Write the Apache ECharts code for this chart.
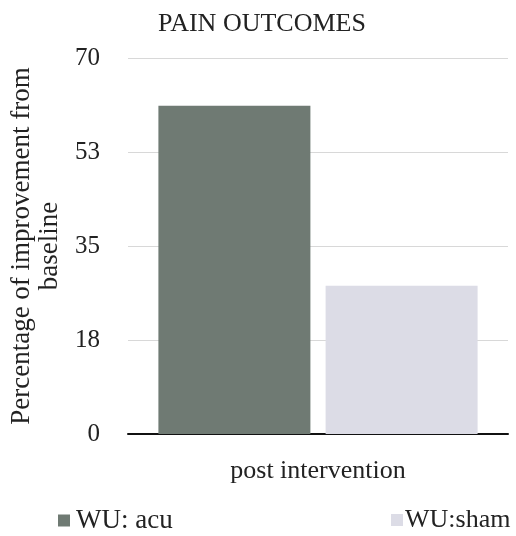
<!DOCTYPE html>
<html>
<head>
<meta charset="utf-8">
<style>
  html, body { margin: 0; padding: 0; background: #fff; }
  #chart { width: 516px; height: 536px; }
</style>
<script src="https://cdn.jsdelivr.net/npm/echarts@6/dist/echarts.min.js"></script>
</head>
<body>
<div id="chart"></div>
<script>
// Pain outcomes: percentage of improvement from baseline
const categories = ['post intervention'];
const seriesNames = ['WU: acu', 'WU:sham'];
const acuValues = [61.1];
const shamValues = [27.6];
const yTicks = [0, 17.5, 35, 52.5, 70];

const FONT = '"Liberation Serif", "Times New Roman", serif';
const chart = echarts.init(document.getElementById('chart'));

chart.setOption({
  animation: false,
  backgroundColor: '#ffffff',
  title: {
    text: 'PAIN OUTCOMES',
    left: 257,
    textAlign: 'center',
    top: 6,
    textStyle: { fontFamily: FONT, fontSize: 26, fontWeight: 'normal', color: '#222' }
  },
  legend: [
    {
      data: [seriesNames[0]],
      left: 53, top: 502,
      itemWidth: 12, itemHeight: 12, icon: 'rect', itemGap: 4,
      textStyle: { fontFamily: FONT, fontSize: 27, color: '#222', padding: [0, 0, 0, 1] }
    },
    {
      data: [seriesNames[1]],
      left: 386, top: 502,
      itemWidth: 12, itemHeight: 12, icon: 'rect', itemGap: 4,
      textStyle: { fontFamily: FONT, fontSize: 26, color: '#222', padding: [0, 0, 0, -3] }
    }
  ],
  grid: { left: 128, right: 8, top: 58, bottom: 102, containLabel: false, outerBoundsMode: 'none' },
  xAxis: {
    type: 'category',
    data: categories,
    axisLine: { lineStyle: { color: '#111', width: 2 } },
    axisTick: { show: false },
    axisLabel: { fontFamily: FONT, fontSize: 26, color: '#222', margin: 24 }
  },
  yAxis: {
    type: 'value',
    min: yTicks[0],
    max: yTicks[yTicks.length - 1],
    interval: yTicks[1] - yTicks[0],
    name: 'Percentage of improvement from\nbaseline',
    nameLocation: 'middle',
    nameRotate: 90,
    nameGap: 64,
    nameTextStyle: { fontFamily: FONT, fontSize: 27, color: '#222', lineHeight: 28 },
    axisLine: { show: false },
    axisTick: { show: false },
    axisLabel: {
      fontFamily: FONT, fontSize: 25, color: '#222', margin: 28,
      formatter: v => String(Math.round(v))
    },
    splitLine: { lineStyle: { color: '#d8d8d8', width: 1 } }
  },
  series: [
    {
      name: seriesNames[0],
      type: 'bar',
      data: acuValues,
      barWidth: '40%',
      barGap: '10%',
      itemStyle: { color: '#6f7a73' }
    },
    {
      name: seriesNames[1],
      type: 'bar',
      data: shamValues,
      barWidth: '40%',
      itemStyle: { color: '#dcdce6' }
    }
  ]
});
</script>
</body>
</html>
